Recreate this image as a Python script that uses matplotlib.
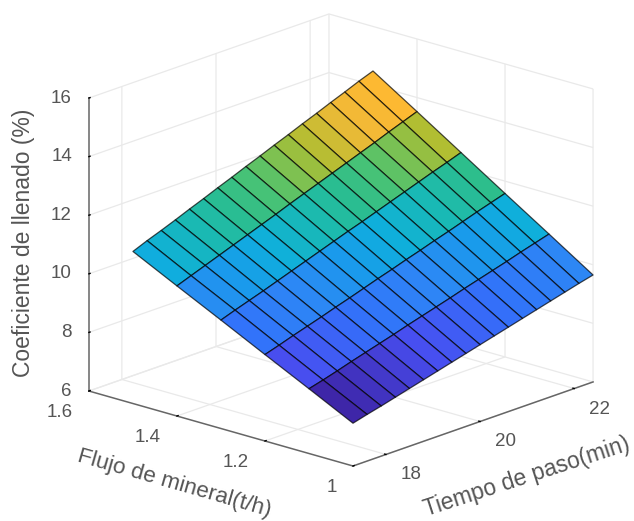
import numpy as np
import matplotlib
matplotlib.use("Agg")
from matplotlib import pyplot as plt
from matplotlib.colors import LinearSegmentedColormap, Normalize
from mpl_toolkits.mplot3d import proj3d

plt.rcParams['font.family'] = ['Liberation Sans', 'DejaVu Sans']

# values
tiempo = [17.3, 17.6, 17.9, 18.2, 18.5, 18.8, 19.1, 19.4, 19.7, 20.0, 20.3, 20.6, 20.9, 21.2, 21.5, 21.8, 22.1, 22.4]
flujo = [1.0, 1.1, 1.2, 1.3, 1.4, 1.5]
llenado_10 = [7.46, 7.59, 7.71, 7.84, 7.97, 8.10, 8.23, 8.36, 8.49, 8.62, 8.75, 8.88, 9.01, 9.14, 9.27, 9.40, 9.53, 9.65]
llenado_11 = [8.21, 8.34, 8.48, 8.63, 8.77, 8.91, 9.05, 9.20, 9.34, 9.48, 9.62, 9.77, 9.91, 10.05, 10.19, 10.34, 10.48, 10.62]
llenado_12 = [8.95, 9.10, 9.26, 9.41, 9.56, 9.72, 9.87, 10.03, 10.19, 10.34, 10.50, 10.65, 10.81, 10.96, 11.12, 11.28, 11.43, 11.58]
llenado_13 = [9.70, 9.87, 10.03, 10.19, 10.36, 10.53, 10.70, 10.87, 11.04, 11.21, 11.37, 11.54, 11.71, 11.88, 12.05, 12.22, 12.38, 12.55]
llenado_14 = [10.44, 10.62, 10.80, 10.98, 11.16, 11.34, 11.52, 11.70, 11.89, 12.07, 12.25, 12.43, 12.61, 12.79, 12.97, 13.16, 13.34, 13.52]
llenado_15 = [11.19, 11.39, 11.57, 11.76, 11.96, 12.15, 12.35, 12.54, 12.74, 12.93, 13.13, 13.32, 13.52, 13.71, 13.91, 14.10, 14.30, 14.48]

tiempo_ticks = [18, 20, 22]
tiempo_labels = ['18', '20', '22']
flujo_ticks = [1, 1.2, 1.4, 1.6]
flujo_labels = ['1', '1.2', '1.4', '1.6']
llenado_ticks = [6, 8, 10, 12, 14, 16]
llenado_labels = ['6', '8', '10', '12', '14', '16']

# parula, by eye from the picture
parula = LinearSegmentedColormap.from_list('parula', [
    (0.000, (62/255, 38/255, 168/255)),
    (0.107, (72/255, 78/255, 240/255)),
    (0.210, (50/255, 115/255, 250/255)),
    (0.295, (45/255, 135/255, 245/255)),
    (0.370, (25/255, 155/255, 235/255)),
    (0.430, (15/255, 175/255, 220/255)),
    (0.500, (25/255, 185/255, 180/255)),
    (0.565, (45/255, 190/255, 140/255)),
    (0.620, (80/255, 195/255, 110/255)),
    (0.700, (175/255, 190/255, 50/255)),
    (0.770, (240/255, 185/255, 55/255)),
    (0.840, (253/255, 185/255, 50/255)),
    (1.000, (249/255, 251/255, 20/255)),
])

T, F = np.meshgrid(tiempo, flujo)
Z = np.array([llenado_10, llenado_11, llenado_12, llenado_13, llenado_14, llenado_15])

fig = plt.figure(figsize=(6.34, 5.21), dpi=100)
ax = fig.add_axes([0, 0, 1, 1], projection='3d', proj_type='ortho')
ax.view_init(elev=18.38, azim=-138)
ax.set_box_aspect((358.7, 355.3, 308.7))
ax.set_xlim(tiempo[0], tiempo[-1], view_margin=0)
ax.set_ylim(1, 1.6, view_margin=0)
ax.set_zlim(6, 16, view_margin=0)

# flat colouring, each face takes its lower corner
colores = parula(Normalize(Z.min(), Z.max())(Z))
ax.plot_surface(T, F, Z, facecolors=colores, rstride=1, cstride=1, shade=False,
                edgecolor=(0, 0, 0, 0.7), linewidth=0.9, antialiased=True)

gris = '#555555'
ax.set_xticks(tiempo_ticks)
ax.set_yticks(flujo_ticks)
ax.set_zticks(llenado_ticks)
ax.set_xticklabels([])
ax.set_yticklabels([])
ax.set_zticklabels([])

for eje in [ax.xaxis, ax.yaxis, ax.zaxis]:
    eje.set_pane_color((1, 1, 1, 0))
    eje.pane.set_edgecolor('#e9e9e9')
    eje.line.set_color('#666666')
    eje.line.set_linewidth(1.1)
    eje._axinfo['grid']['color'] = '#e9e9e9'
    eje._axinfo['grid']['linewidth'] = 0.9
    eje._axinfo['tick']['inward_factor'] = 0.0
    eje._axinfo['tick']['outward_factor'] = 0.06
    eje._axinfo['tick']['linewidth'] = {True: 1.0, False: 0.5}


# fit the box to where it sits in the picture
def pixel(x, y, z):
    px, py, _ = proj3d.proj_transform(x, y, z, ax.get_proj())
    return ax.transData.transform((px, py))


fig.canvas.draw()
abajo = pixel(tiempo[0], 1, 6)
arriba = pixel(tiempo[0], 1, 16)
ax.set_box_aspect((358.7, 355.3, 308.7), zoom=293.0 / (arriba[1] - abajo[1]))
fig.canvas.draw()
frente = pixel(tiempo[0], 1, 6)
dx = (353 - frente[0]) / 634.0
dy = ((521 - 466) - frente[1]) / 521.0
ax.set_position([dx, dy, 1, 1])


# text hangs off a 3d point by some pixels, mplot3d can't shift its own labels freely
def rotulo(x, y, z, texto, ox, oy, size=13.5, ha='center', rot=0):
    px, py, _ = proj3d.proj_transform(x, y, z, ax.get_proj())
    ax.annotate(texto, xy=(px, py), xytext=(ox, oy), textcoords='offset pixels',
                ha=ha, va='center', fontsize=size, color=gris, rotation=rot,
                rotation_mode='anchor', annotation_clip=False)


for t, lab in zip(tiempo_ticks, tiempo_labels):
    rotulo(t, 1, 6, lab, 25, -20.5)
for f, lab in zip(flujo_ticks, flujo_labels):
    rotulo(tiempo[0], f, 6, lab, -16, -21, ha='right')
for z, lab in zip(llenado_ticks, llenado_labels):
    rotulo(tiempo[0], 1.6, z, lab, -17, 0, ha='right')

rotulo(19.85, 1, 6, 'Tiempo de paso(min)', 54, -53, size=16.5, rot=18)
rotulo(tiempo[0], 1.3, 6, 'Flujo de mineral(t/h)', -47, -55, size=16.2, rot=-16)
rotulo(tiempo[0], 1.6, 11, 'Coeficiente de llenado (%)', -65, 1.5, size=16.5, rot=90)

fig.savefig('out.png', dpi=100)
